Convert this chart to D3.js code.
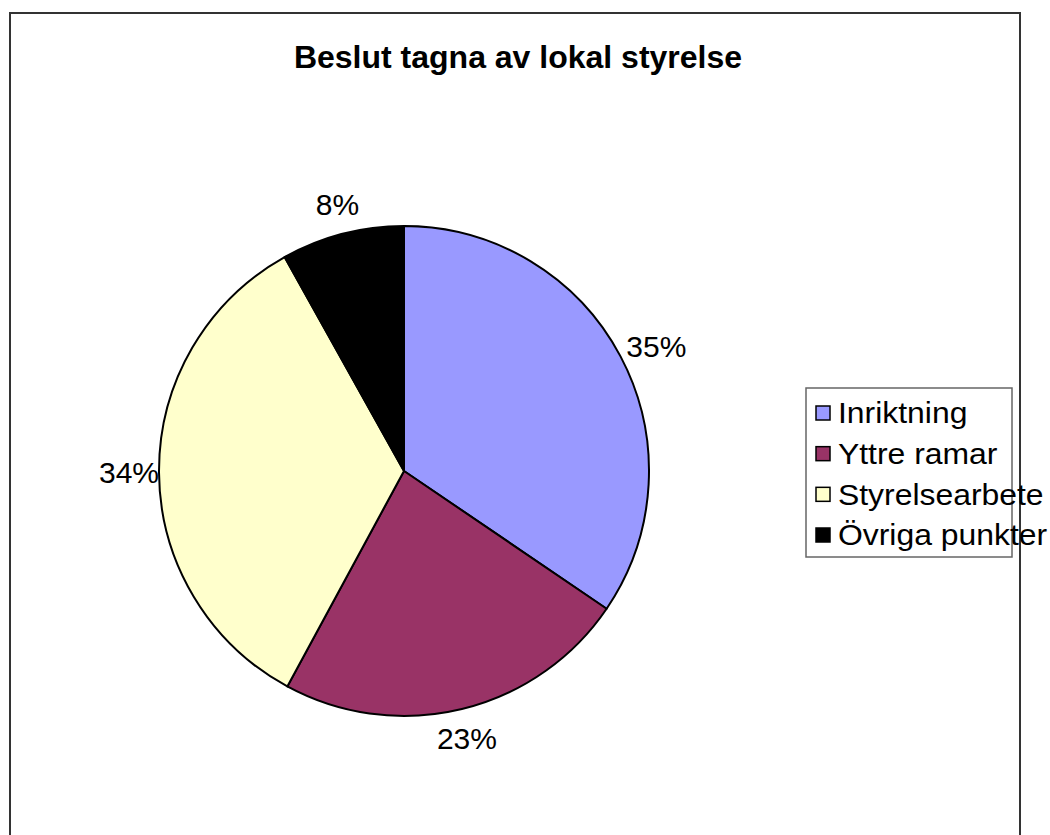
<!DOCTYPE html>
<html>
<head>
<meta charset="utf-8">
<script src="https://cdn.jsdelivr.net/npm/d3@7"></script>
<style>
  body { margin: 0; background: #fff; }
  text { font-family: Arial, "Liberation Sans", sans-serif; }
</style>
</head>
<body>
<div id="chart"></div>
<script>
// data
const categories = ["Inriktning", "Yttre ramar", "Styrelsearbete", "Övriga punkter"];
const values = [34.5, 23.4, 34.0, 8.1];
const colors = ["#9999FF", "#993366", "#FFFFCC", "#000000"];
const title = "Beslut tagna av lokal styrelse";

const width = 1050, height = 835;
const svg = d3.select("#chart").append("svg")
  .attr("width", width)
  .attr("height", height);

// chart area border
svg.append("rect")
  .attr("x", 10).attr("y", 13)
  .attr("width", 1010).attr("height", 840)
  .attr("fill", "#fff")
  .attr("stroke", "#333")
  .attr("stroke-width", 2);

svg.append("text")
  .attr("x", 518).attr("y", 68)
  .attr("text-anchor", "middle")
  .style("font-size", "32px")
  .style("font-weight", "bold")
  .text(title);

const cx = 404, cy = 471, r = 245;
const total = d3.sum(values);
const data = categories.map((c, i) => ({ name: c, value: values[i], color: colors[i] }));

const pie = d3.pie().sort(null).value(d => d.value);
const arc = d3.arc().innerRadius(0).outerRadius(r);
const arcs = pie(data);

const g = svg.append("g").attr("transform", `translate(${cx},${cy})`);
g.selectAll("path")
  .data(arcs)
  .enter().append("path")
  .attr("d", arc)
  .attr("fill", d => d.data.color)
  .attr("stroke", "#000")
  .attr("stroke-width", 2)
  .attr("stroke-linejoin", "round");

// percentage labels outside the slices
const fs = 30;
g.selectAll("text.lbl")
  .data(arcs)
  .enter().append("text")
  .attr("class", "lbl")
  .style("font-size", fs + "px")
  .attr("text-anchor", "middle")
  .attr("dominant-baseline", "central")
  .text(d => Math.round(d.data.value / total * 100) + "%")
  .each(function(d) {
    const a = (d.startAngle + d.endAngle) / 2;
    const bb = this.getBBox();
    const s = Math.sin(a), c = Math.cos(a);
    const x = s * (r + 14 + bb.width / 2 * Math.abs(s)) - (Math.abs(s) > 0.95 ? s * 14 : 0);
    const y = -c * (r + 14 + bb.height / 2 * Math.abs(c));
    d3.select(this).attr("x", x).attr("y", y);
  });

// legend
const legend = svg.append("g").attr("transform", "translate(806,388)");
legend.append("rect")
  .attr("width", 206).attr("height", 169)
  .attr("fill", "#fff")
  .attr("stroke", "#666")
  .attr("stroke-width", 1.5);

const rowY = d3.scalePoint().domain(categories).range([25, 147]);
const items = legend.selectAll("g.item")
  .data(data)
  .enter().append("g")
  .attr("class", "item")
  .attr("transform", d => `translate(0,${rowY(d.name)})`);
items.append("rect")
  .attr("x", 10).attr("y", -7)
  .attr("width", 14).attr("height", 14)
  .attr("fill", d => d.color)
  .attr("stroke", "#000")
  .attr("stroke-width", 1.5);
items.append("text")
  .attr("x", 32)
  .attr("dominant-baseline", "central")
  .style("font-size", "29px")
  .attr("transform", "scale(1.1,1)")
  .attr("x", 32 / 1.1)
  .text(d => d.name);
</script>
</body>
</html>
